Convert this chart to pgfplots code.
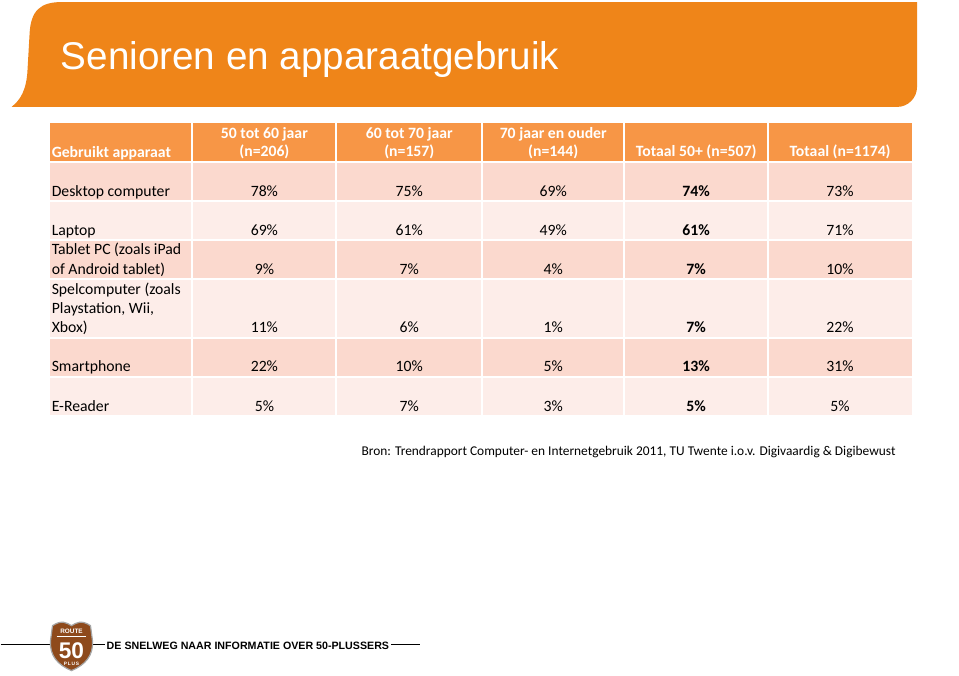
\documentclass[border=0pt]{standalone}
\usepackage{pgfplots}
\pgfplotsset{compat=1.18}
\usepackage{pgfplotstable}
\usepackage{fontspec}
\setmainfont{Carlito}
\newfontfamily\arial{Liberation Sans}
\definecolor{banner}{HTML}{EF8519}
\definecolor{hdr}{HTML}{F79646}
\definecolor{rowA}{HTML}{FBD9CE}
\definecolor{rowB}{HTML}{FDEDE9}
\definecolor{shield}{HTML}{8E4A1C}

\pgfplotstableread{
y a b c d e
197 78 75 69 74 73
236 69 61 49 61 71
275 9 7 4 7 10
333 11 6 1 7 22
372 22 10 5 13 31
412 5 7 3 5 5
}\data

\newcommand{\tf}{\fontsize{11.8}{14}\selectfont}

\begin{document}
\begin{tikzpicture}
\begin{axis}[
  scale only axis, width=719.25pt, height=507pt,
  xmin=0, xmax=959, ymin=0, ymax=676, y dir=reverse,
  hide axis, clip=false,
  point meta=explicit symbolic,
  nodes near coords={\pgfplotspointmeta\%},
  every node near coord/.append style={anchor=base, font=\tf, text=black},
]
% page background
\fill[white] (axis cs:0,0) rectangle (axis cs:959,676);
% banner
\fill[banner] (axis cs:11,107) -- (axis cs:897,107)
  .. controls (axis cs:908,107) and (axis cs:917,98) .. (axis cs:917,87)
  -- (axis cs:917,2) -- (axis cs:62,2)
  .. controls (axis cs:40,2) and (axis cs:30,10) .. (axis cs:29,35)
  -- (axis cs:27,70)
  .. controls (axis cs:26,90) and (axis cs:20,100) .. cycle;
\node[anchor=base west, text=white, font=\arial\fontsize{29}{34}\selectfont, inner sep=0pt] at (axis cs:60,70) {Senioren en apparaatgebruik};
% table background
\fill[hdr]  (axis cs:49,123) rectangle (axis cs:912,162);
\fill[rowA] (axis cs:49,162) rectangle (axis cs:912,201);
\fill[rowB] (axis cs:49,201) rectangle (axis cs:912,240);
\fill[rowA] (axis cs:49,240) rectangle (axis cs:912,279);
\fill[rowB] (axis cs:49,279) rectangle (axis cs:912,338);
\fill[rowA] (axis cs:49,338) rectangle (axis cs:912,377);
\fill[rowB] (axis cs:49,377) rectangle (axis cs:912,415);
\draw[white, line width=1.6pt] (axis cs:49,162) -- (axis cs:912,162);
\draw[white, line width=1.6pt] (axis cs:49,201) -- (axis cs:912,201);
\draw[white, line width=1.6pt] (axis cs:49,240) -- (axis cs:912,240);
\draw[white, line width=1.6pt] (axis cs:49,279) -- (axis cs:912,279);
\draw[white, line width=1.6pt] (axis cs:49,338) -- (axis cs:912,338);
\draw[white, line width=1.6pt] (axis cs:49,377) -- (axis cs:912,377);
\draw[white, line width=1.6pt] (axis cs:192,123) -- (axis cs:192,415);
\draw[white, line width=1.6pt] (axis cs:336,123) -- (axis cs:336,415);
\draw[white, line width=1.6pt] (axis cs:482,123) -- (axis cs:482,415);
\draw[white, line width=1.6pt] (axis cs:624,123) -- (axis cs:624,415);
\draw[white, line width=1.6pt] (axis cs:768,123) -- (axis cs:768,415);
% header text
\begin{scope}[every node/.style={text=white, font=\tf\bfseries, inner sep=0pt}]
\node[anchor=base west] at (axis cs:51,158) {Gebruikt apparaat};
\node[anchor=base] at (axis cs:264,139) {50 tot 60 jaar};
\node[anchor=base] at (axis cs:264,157) {(n=206)};
\node[anchor=base] at (axis cs:409,139) {60 tot 70 jaar};
\node[anchor=base] at (axis cs:409,157) {(n=157)};
\node[anchor=base] at (axis cs:553,139) {70 jaar en ouder};
\node[anchor=base] at (axis cs:553,157) {(n=144)};
\node[anchor=base] at (axis cs:696,157) {Totaal 50+ (n=507)};
\node[anchor=base] at (axis cs:840,157) {Totaal (n=1174)};
\end{scope}
% row labels
\begin{scope}[every node/.style={text=black, font=\tf, inner sep=0pt, anchor=base west}]
\node at (axis cs:51,197) {Desktop computer};
\node at (axis cs:51,236) {Laptop};
\node at (axis cs:51,255) {Tablet PC (zoals iPad};
\node at (axis cs:51,275) {of Android tablet)};
\node at (axis cs:51,295) {Spelcomputer (zoals};
\node at (axis cs:51,314) {Playstation, Wii,};
\node at (axis cs:51,333) {Xbox)};
\node at (axis cs:51,372) {Smartphone};
\node at (axis cs:51,412) {E-Reader};
\end{scope}
% values
\addplot[draw=none, mark=none] table[x expr=264, y=y, meta=a] {\data};
\addplot[draw=none, mark=none] table[x expr=409, y=y, meta=b] {\data};
\addplot[draw=none, mark=none] table[x expr=553, y=y, meta=c] {\data};
\addplot[draw=none, mark=none, every node near coord/.append style={font=\tf\bfseries}] table[x expr=696, y=y, meta=d] {\data};
\addplot[draw=none, mark=none] table[x expr=840, y=y, meta=e] {\data};
% source
\node[anchor=base west, inner sep=0pt, font=\fontsize{10.05}{12}\selectfont] at (axis cs:361,456) {Bron: Trendrapport Computer- en Internetgebruik 2011, TU Twente i.o.v. Digivaardig \& Digibewust};
% footer
\draw[black, line width=0.8pt] (axis cs:0,645) -- (axis cs:50,645);
\draw[black, line width=0.8pt] (axis cs:93,645) -- (axis cs:105,645);
\draw[black, line width=0.8pt] (axis cs:391,645) -- (axis cs:420,645);
\node[anchor=base west, inner sep=0pt, font=\arial\bfseries\fontsize{8}{10}\selectfont] at (axis cs:106,650) {DE SNELWEG NAAR INFORMATIE OVER 50-PLUSSERS};
\filldraw[fill=shield, draw=black!35, line width=0.9pt]
  (axis cs:52,626) .. controls (axis cs:61,620) and (axis cs:66,623) .. (axis cs:71,626)
  .. controls (axis cs:76,623) and (axis cs:81,620) .. (axis cs:90,626)
  -- (axis cs:92,641) .. controls (axis cs:93,656) and (axis cs:85,665) .. (axis cs:71,671)
  .. controls (axis cs:57,665) and (axis cs:49,656) .. (axis cs:50,641) -- cycle;
\draw[white, line width=0.6pt] (axis cs:56,637) -- (axis cs:86,637);
\node[text=white, inner sep=0pt, font=\arial\bfseries\fontsize{4.8}{5}\selectfont] at (axis cs:71,632) {ROUTE};
\node[text=white, inner sep=0pt, font=\arial\bfseries\fontsize{17}{18}\selectfont] at (axis cs:71,651) {50};
\node[text=white, inner sep=0pt, font=\arial\bfseries\fontsize{3.6}{4}\selectfont] at (axis cs:71,664) {P\,L\,U\,S};
\end{axis}
\end{tikzpicture}
\end{document}
